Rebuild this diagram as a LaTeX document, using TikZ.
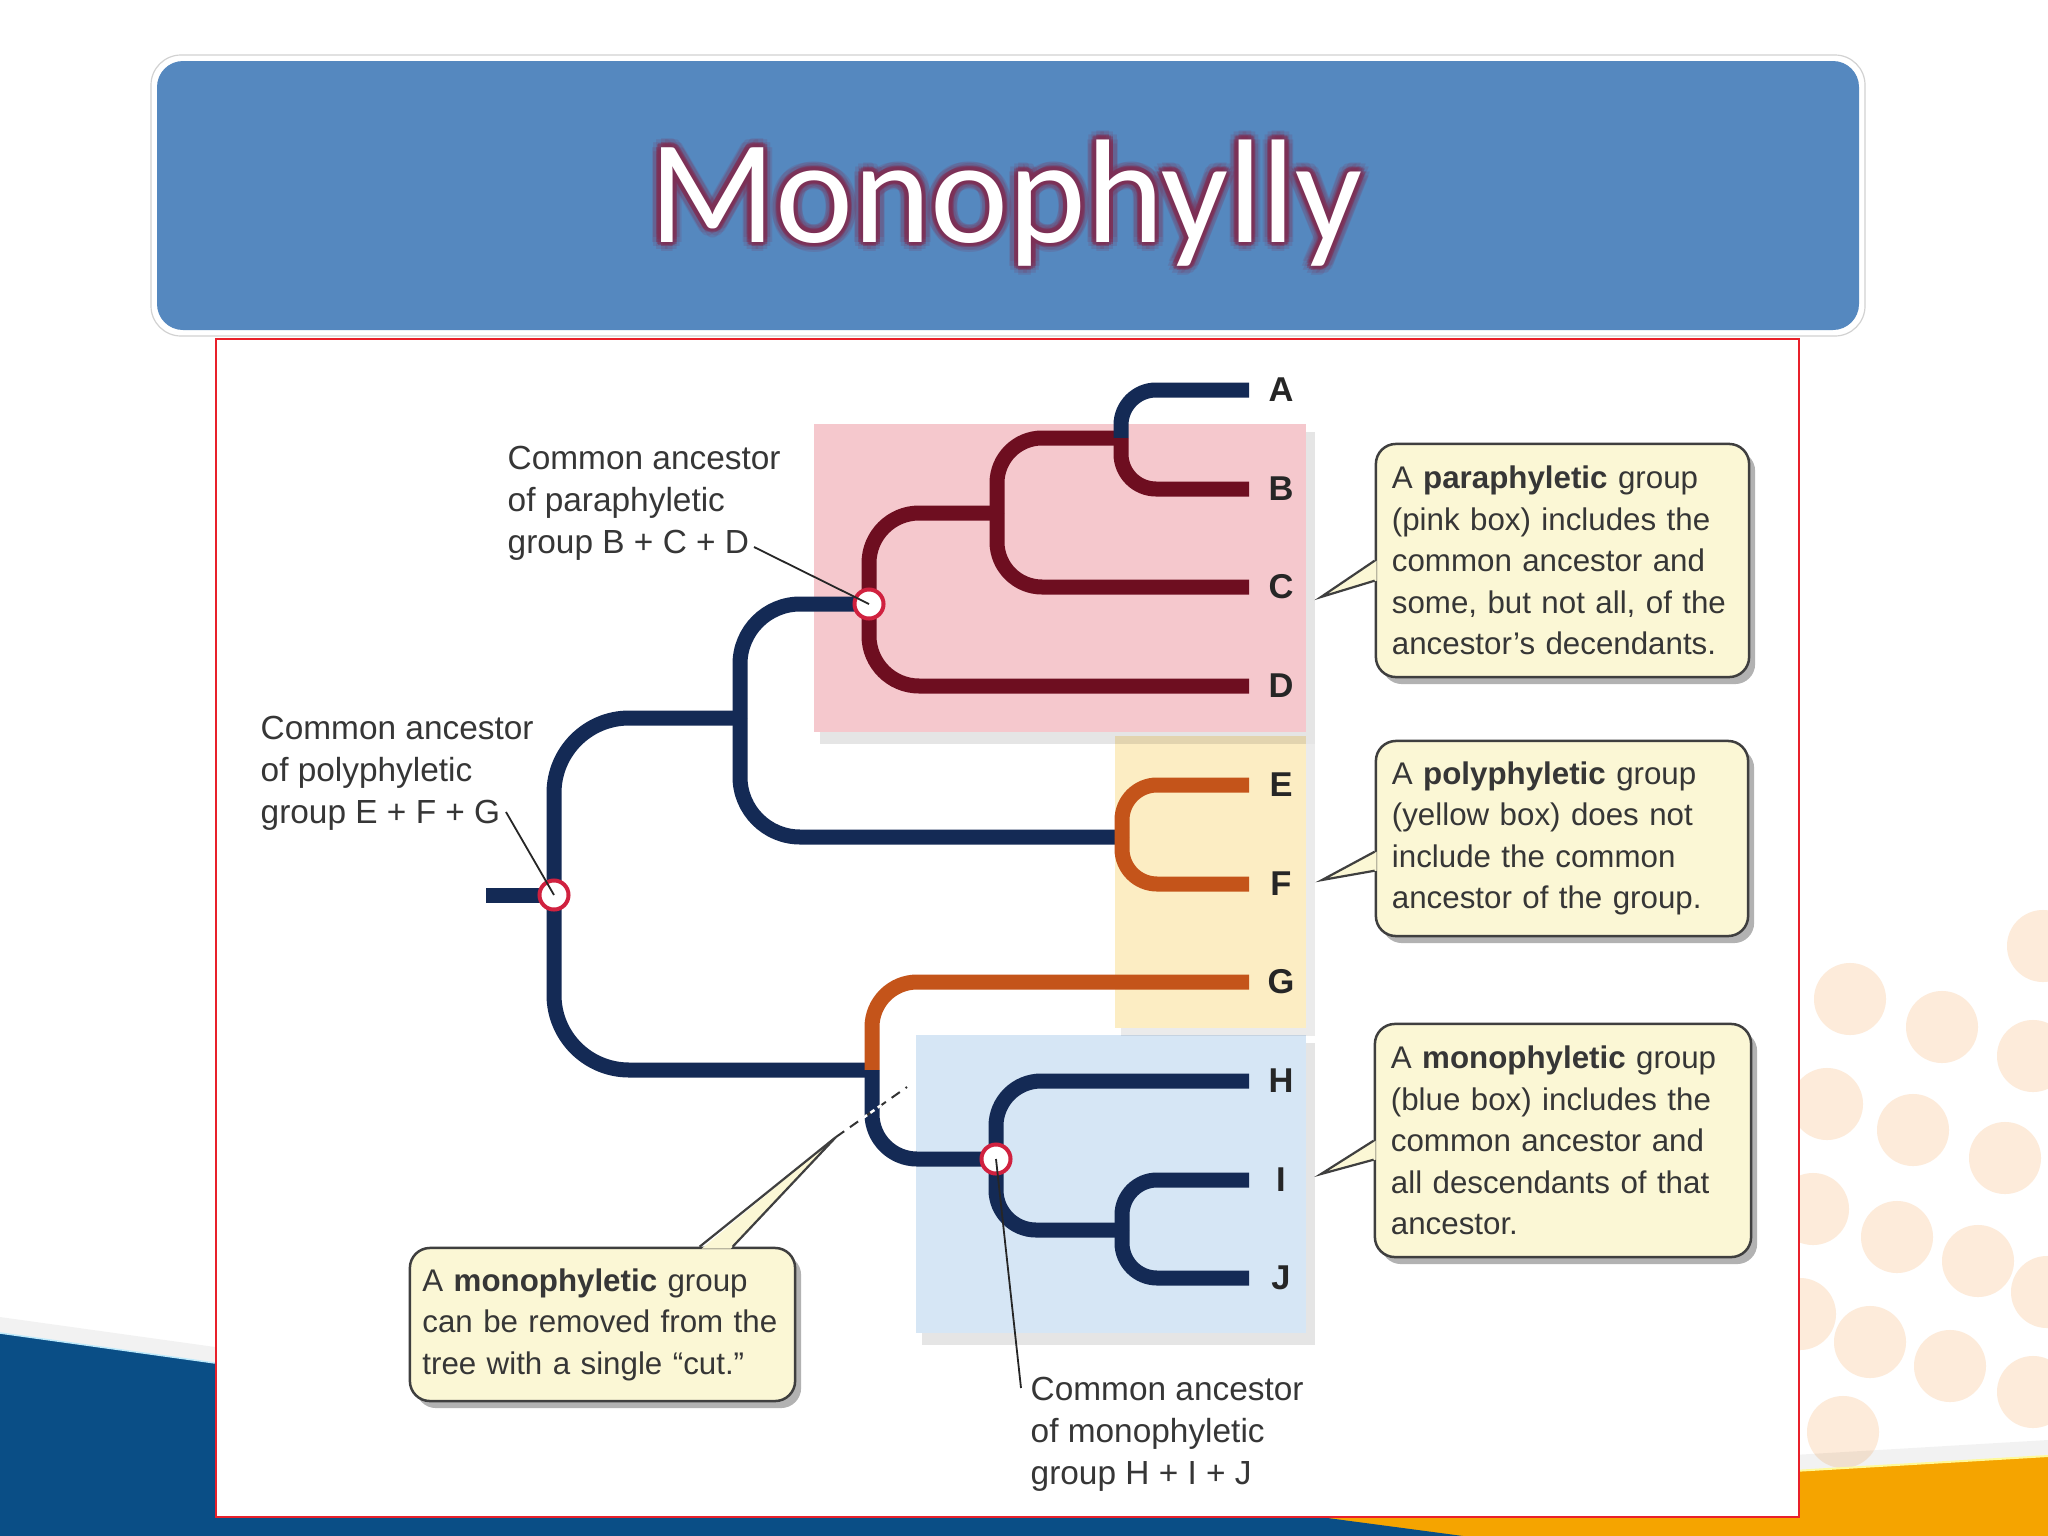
\documentclass[tikz,border=0pt]{standalone}
\usepackage{fontspec}
\setmainfont{Liberation Sans}
\newfontfamily\titlefont{Carlito}
\usetikzlibrary{calc,shadows}
\definecolor{navyT}{HTML}{142A55}
\definecolor{maroonT}{HTML}{6E0E20}
\definecolor{orangeT}{HTML}{C4541A}
\definecolor{ringred}{HTML}{D0213F}
\definecolor{pinkbox}{HTML}{F5C8CD}
\definecolor{yelbox}{HTML}{FCEDC3}
\definecolor{bluebox}{HTML}{D6E6F5}
\definecolor{beige}{HTML}{FBF7D5}
\definecolor{boxline}{HTML}{3F3F3F}
\definecolor{txt}{HTML}{363636}
\definecolor{banner}{HTML}{5588BF}
\definecolor{glowc}{HTML}{7E2F55}
\definecolor{slideblue}{HTML}{0A4E86}
\definecolor{slideorange}{HTML}{F5A400}
\definecolor{dotc}{HTML}{FDEBDA}
\definecolor{framered}{HTML}{E8202A}
\begin{document}
\begin{tikzpicture}[x=0.01cm,y=-0.01cm,
  navyb/.style={draw=navyT,line width=0.15cm},
  maroonb/.style={draw=maroonT,line width=0.15cm},
  orangeb/.style={draw=orangeT,line width=0.15cm},
  ancnode/.style={circle,fill=white,draw=ringred,line width=0.04cm,minimum size=0.29cm,inner sep=0pt},
  leaflab/.style={font=\fontsize{9.8}{11}\selectfont\bfseries,text=black!85,inner sep=0pt},
  lab/.style={font=\fontsize{9.5}{12}\selectfont,text=txt,align=left,inner sep=0pt,anchor=west},
  callout/.style={draw=boxline,fill=beige,line width=0.025cm,rounded corners=0.2cm,
     font=\fontsize{8.9}{11.8}\selectfont,text=txt,align=left,inner xsep=0.16cm,inner ysep=0pt,
     drop shadow={shadow xshift=0.06cm,shadow yshift=-0.07cm,fill=black,opacity=0.3}},
  leader/.style={draw=black!85,line width=0.018cm},
  ptr/.style={draw=boxline,line width=0.022cm},
  titlestyle/.style={font=\titlefont\fontsize{42}{50}\selectfont,anchor=base,inner sep=0pt}
]
\useasboundingbox (0,0) rectangle (2048,1536);
\fill[white] (0,0) rectangle (2048,1536);
% decorative dots
\foreach \px/\py in {1850/999,1942/1027,2043/946,2033/1056,1827/1104,1913/1130,2005/1158,1813/1209,1897/1237,1978/1261,2047/1292,1800/1314,1870/1342,1950/1366,2033/1392,1843/1432}
  \fill[dotc] (\px,\py) circle[radius=0.36cm];
% bottom bands
\fill[black,opacity=0.05] (1250,1487) -- (2048,1440) -- (2048,1456) -- (1250,1503) -- cycle;
\fill[slideorange] (1250,1536) -- (1250,1503) -- (2048,1456) -- (2048,1536) -- cycle;
\draw[yellow!40!white,line width=0.02cm] (1250,1503) -- (2048,1456);
\fill[black,opacity=0.05] (0,1317) -- (1320,1501) -- (1320,1517) -- (0,1333) -- cycle;
\fill[slideblue] (0,1333) -- (1320,1517) -- (1463,1536) -- (0,1536) -- cycle;
\draw[cyan!25!white,line width=0.015cm] (0,1333) -- (1320,1517);
% title banner
\draw[rounded corners=0.3cm,fill=white,draw=gray!35,line width=0.012cm] (151,55) rectangle (1865,336);
\fill[banner,rounded corners=0.26cm] (157,61) rectangle (1859,330);
\foreach \a in {0,30,...,330}
  \node[titlestyle,text=glowc,opacity=0.16] (tga\a) at ($(1006,242)+(\a:9)$) {Monophylly};
\foreach \a in {0,30,...,330}
  \node[titlestyle,text=glowc,opacity=0.45] (tgb\a) at ($(1006,242)+(\a:4.5)$) {Monophylly};
\node[titlestyle,text=white] (title) at (1006,242) {Monophylly};
% frame
\draw[framered,line width=0.025cm,fill=white] (216,339) rectangle (1799,1517);
% group boxes
\fill[black,opacity=0.10] (922,1043) rectangle (1315,1345);
\fill[bluebox] (916,1035) rectangle (1306,1333);
\fill[black,opacity=0.08] (1121,744) rectangle (1315,1036);
\fill[yelbox] (1115,736) rectangle (1306,1028);
\fill[black,opacity=0.10] (820,432) rectangle (1315,744);
\fill[pinkbox] (814,424) rectangle (1306,732);
% tree coordinates
\coordinate (rootL) at (486,895);
\coordinate (R) at (554,895);
\coordinate (N1) at (740,718);
\coordinate (P) at (869,604);
\coordinate (Q) at (997,513);
\coordinate (S) at (1121,438);
\coordinate (EF) at (1122,837);
\coordinate (N2) at (872,1070);
\coordinate (M) at (996,1159);
\coordinate (IJ) at (1122,1230);
\coordinate (eA) at (1249,390);
\coordinate (eB) at (1249,489);
\coordinate (eC) at (1249,587);
\coordinate (eD) at (1249,686);
\coordinate (eE) at (1249,785);
\coordinate (eF) at (1249,884);
\coordinate (eG) at (1249,982);
\coordinate (eH) at (1249,1081);
\coordinate (eI) at (1249,1180);
\coordinate (eJ) at (1249,1278);
% branches
\draw[navyb] (rootL) -- (R);
\draw[navyb,rounded corners=0.75cm] (R) |- (N1);
\draw[navyb,rounded corners=0.75cm] (R) |- (N2);
\draw[navyb,rounded corners=0.6cm] (N1) |- (P);
\draw[navyb,rounded corners=0.6cm] (N1) |- (EF);
\draw[maroonb,rounded corners=0.5cm] (P) |- (Q);
\draw[maroonb,rounded corners=0.5cm] (P) |- (eD);
\draw[maroonb,rounded corners=0.45cm] (Q) |- (S);
\draw[maroonb,rounded corners=0.45cm] (Q) |- (eC);
\draw[navyb,rounded corners=0.35cm] (S) |- (eA);
\draw[maroonb,rounded corners=0.35cm] (S) |- (eB);
\draw[orangeb,rounded corners=0.35cm] (EF) |- (eE);
\draw[orangeb,rounded corners=0.35cm] (EF) |- (eF);
\draw[orangeb,rounded corners=0.45cm] (N2) |- (eG);
\draw[navyb,rounded corners=0.45cm] (N2) |- (M);
\draw[navyb,rounded corners=0.45cm] (M) |- (eH);
\draw[navyb,rounded corners=0.4cm] (M) |- (IJ);
\draw[navyb,rounded corners=0.35cm] (IJ) |- (eI);
\draw[navyb,rounded corners=0.35cm] (IJ) |- (eJ);
% ancestor circles
\node[ancnode] (cR) at (R) {};
\node[ancnode] (cP) at (P) {};
\node[ancnode] (cM) at (M) {};
% leaf labels
\node[leaflab] (lA) at (1281,390) {A};
\node[leaflab] (lB) at (1281,489) {B};
\node[leaflab] (lC) at (1281,587) {C};
\node[leaflab] (lD) at (1281,686) {D};
\node[leaflab] (lE) at (1281,785) {E};
\node[leaflab] (lF) at (1281,884) {F};
\node[leaflab] (lG) at (1281,982) {G};
\node[leaflab] (lH) at (1281,1081) {H};
\node[leaflab] (lI) at (1281,1180) {I};
\node[leaflab] (lJ) at (1281,1278) {J};
% ancestor labels
\node[lab] (labP) at (507,503) {Common ancestor\\of paraphyletic\\group B + C + D};
\node[lab] (labPoly) at (260,773) {Common ancestor\\of polyphyletic\\group E + F + G};
\node[lab] (labM) at (1030,1434) {Common ancestor\\of monophyletic\\group H + I + J};
\coordinate (ldP) at (754,547);
\coordinate (ldPoly) at (506,812);
\coordinate (ldM) at (1021,1388);
\draw[leader] (ldP) -- (cP.center);
\draw[leader] (ldPoly) -- (cR.center);
\draw[leader] (ldM) -- (cM.center);
% callouts
\node[callout,minimum width=3.73cm,minimum height=2.33cm,text width=3.41cm] (paraBox) at (1562.5,560.5)
  {A \textbf{paraphyletic} group\\(pink box) includes the\\common ancestor and\\some, but not all, of the\\ancestor’s decendants.};
\node[callout,minimum width=3.72cm,minimum height=1.95cm,text width=3.40cm] (polyBox) at (1562,838.5)
  {A \textbf{polyphyletic} group\\(yellow box) does not\\include the common\\ancestor of the group.};
\node[callout,minimum width=3.76cm,minimum height=2.33cm,text width=3.44cm] (monoBox) at (1563,1140.5)
  {A \textbf{monophyletic} group\\(blue box) includes the\\common ancestor and\\all descendants of that\\ancestor.};
\node[callout,minimum width=3.85cm,minimum height=1.53cm,text width=3.60cm,inner xsep=0.125cm] (cutBox) at (602.5,1324.5)
  {A \textbf{monophyletic} group\\can be removed from the\\tree with a single “cut.”};
% callout pointers
\coordinate (paraTip) at (1321,597);
\coordinate (polyTip) at (1322,880);
\coordinate (monoTip) at (1321,1174);
\coordinate (cutTip) at (836,1137);
\coordinate (cutEnd) at (907,1087);
\fill[beige] ($(paraBox.north west)+(2,118)$) -- (paraTip) -- ($(paraBox.north west)+(2,138)$) -- cycle;
\draw[ptr] ($(paraBox.north west)+(0,118)$) -- (paraTip) -- ($(paraBox.north west)+(0,138)$);
\fill[beige] ($(polyBox.north west)+(2,112)$) -- (polyTip) -- ($(polyBox.north west)+(2,131)$) -- cycle;
\draw[ptr] ($(polyBox.north west)+(0,112)$) -- (polyTip) -- ($(polyBox.north west)+(0,131)$);
\fill[beige] ($(monoBox.north west)+(2,118)$) -- (monoTip) -- ($(monoBox.north west)+(2,137)$) -- cycle;
\draw[ptr] ($(monoBox.north west)+(0,118)$) -- (monoTip) -- ($(monoBox.north west)+(0,137)$);
\fill[beige] ($(cutBox.north west)+(293,2)$) -- (cutTip) -- ($(cutBox.north west)+(322,2)$) -- cycle;
\draw[ptr] ($(cutBox.north west)+(291,0)$) -- (cutTip) -- ($(cutBox.north west)+(324,0)$);
% the cut
\draw[draw=black!80,line width=0.02cm,dash pattern=on 0.1cm off 0.07cm] (cutTip) -- (cutEnd);
\draw[white,line width=0.025cm,dash pattern=on 0.05cm off 0.04cm] ($(cutTip)!0.38!(cutEnd)$) -- ($(cutTip)!0.64!(cutEnd)$);
\end{tikzpicture}
\end{document}
